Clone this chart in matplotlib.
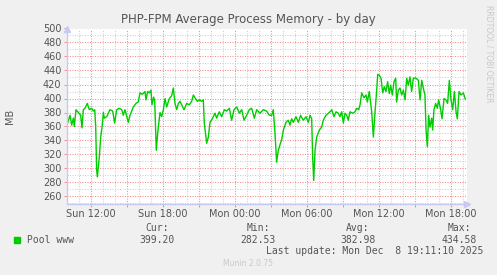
import numpy as np
import matplotlib
matplotlib.use("Agg")
import matplotlib.pyplot as plt
from matplotlib.ticker import MultipleLocator, FixedLocator, FuncFormatter

# hours since Sun 10:00
hours = [
    0.00, 0.11, 0.25, 0.39, 0.53, 0.61, 0.75, 0.94, 1.14, 1.25, 1.36, 1.50, 1.69, 1.86, 2.06, 2.19,
    2.31, 2.39, 2.47, 2.53, 2.69, 2.81, 2.94, 3.03, 3.11, 3.31, 3.58, 3.81, 3.97, 4.14, 4.36, 4.56,
    4.69, 4.83, 5.11, 5.25, 5.53, 5.75, 5.94, 6.08, 6.28, 6.50, 6.58, 6.72, 6.86, 7.00, 7.08, 7.22,
    7.31, 7.44, 7.56, 7.75, 7.89, 8.03, 8.17, 8.31, 8.53,
    8.58, 8.72, 8.86, 9.00, 9.14, 9.28, 9.42, 9.56, 9.75, 9.97, 10.19, 10.39, 10.53, 10.67, 10.86,
    11.03, 11.22, 11.36, 11.44, 11.64, 11.78, 11.92, 12.14, 12.33, 12.47, 12.69, 12.89, 13.11, 13.31,
    13.53, 13.72, 13.92, 14.14, 14.36, 14.56, 14.75, 14.97, 15.19, 15.39, 15.61, 15.81, 16.08, 16.36,
    16.64, 16.86,
    17.06, 17.19, 17.33, 17.47, 17.61, 17.75, 17.89, 18.03, 18.25, 18.44, 18.58, 18.72, 18.86, 19.08,
    19.28, 19.47, 19.69, 19.92, 20.11, 20.25, 20.39, 20.47, 20.56, 20.67, 20.81, 21.03, 21.22, 21.36,
    21.58, 21.78, 21.92, 22.06, 22.25, 22.42, 22.61, 22.75, 22.89, 23.03, 23.17, 23.31, 23.44, 23.58,
    23.81, 24.00, 24.14, 24.31, 24.42, 24.56, 24.75, 24.92, 25.03, 25.19,
    25.39, 25.53, 25.67, 25.81, 25.89, 26.03, 26.17, 26.31, 26.44, 26.58, 26.72, 26.86, 26.97, 27.11,
    27.25, 27.39, 27.47, 27.61, 27.75, 27.89, 28.03, 28.17, 28.31, 28.44, 28.58, 28.72, 28.86, 29.08,
    29.28, 29.42, 29.56, 29.69, 29.83, 29.92, 30.03, 30.14, 30.25, 30.39, 30.47, 30.58, 30.72, 30.86,
    30.97, 31.14, 31.25, 31.42, 31.58, 31.72, 31.86, 32.00, 32.14, 32.28, 32.42, 32.53, 32.67, 32.83,
    33.03, 33.19,
]

memory_mb = [
    362, 368, 376, 362, 372, 360, 384, 380, 376, 358, 384, 386, 393, 384, 386, 382,
    384, 360, 298, 288, 316, 345, 362, 380, 372, 374, 384, 382, 365, 384, 386, 384,
    376, 384, 366, 376, 388, 393, 395, 408, 406, 410, 398, 410, 408, 412, 391, 402,
    396, 326, 351, 380, 374, 384, 400, 388, 400,
    401, 404, 415, 393, 384, 393, 396, 391, 384, 393, 391, 396, 405, 401, 396,
    398, 396, 398, 365, 336, 345, 366, 372, 379, 372, 381, 374, 384, 382,
    386, 369, 384, 388, 379, 384, 369, 376, 384, 386, 372, 384, 379, 384,
    382, 376,
    376, 384, 351, 309, 326, 334, 341, 355, 366, 369, 362, 371, 366, 374,
    366, 376, 369, 374, 366, 376, 371, 317, 283, 326, 345, 355, 359, 369,
    376, 379, 381, 384, 374, 381, 379, 374, 381, 365, 379, 376, 369, 381,
    379, 381, 386, 384, 391, 408, 401, 405, 395, 410,
    381, 345, 381, 412, 434.6, 433, 429, 408, 417, 410, 424, 407, 419, 405,
    424, 429, 395, 412, 415, 405, 412, 398, 429, 419, 431, 410, 429, 429,
    426, 398, 426, 415, 405, 355, 331, 376, 359, 372, 355, 384, 393, 386,
    398, 384, 371, 400, 398, 393, 426, 398, 384, 410, 381, 371, 410, 405,
    408, 399.2,
]

tick_labels = {2: "Sun 12:00", 8: "Sun 18:00", 14: "Mon 00:00",
               20: "Mon 06:00", 26: "Mon 12:00", 32: "Mon 18:00"}

legend_name = "Pool www"
stats = {"Cur:": "399.20", "Min:": "282.53", "Avg:": "382.98", "Max:": "434.58"}
last_update = "Last update: Mon Dec  8 19:11:10 2025"

W, H = 497, 275
BG = "#f0f0f0"
TXT = "#555555"
mono = "DejaVu Sans Mono"

fig = plt.figure(figsize=(W / 100, H / 100), dpi=100, facecolor=BG)
ax = fig.add_axes([67 / W, (H - 203.5) / H, 400 / W, 175 / H])
ax.set_facecolor("white")

ax.set_xlim(0, 400 / 12)
ax.set_ylim(250, 500)

# red grid every 3 h (Sun 12:00 = hour 2), grey every hour
ax.xaxis.set_major_locator(FixedLocator(np.arange(2, 34, 3)))
ax.xaxis.set_minor_locator(MultipleLocator(1))
ax.yaxis.set_major_locator(MultipleLocator(20))
ax.yaxis.set_minor_locator(MultipleLocator(10))
ax.xaxis.set_major_formatter(FuncFormatter(lambda v, p: tick_labels.get(int(round(v)), "")))
ax.yaxis.set_major_formatter(FuncFormatter(lambda v, p: f"{v:.0f}"))

ax.grid(which="minor", color="#cfcfcf", linestyle=(0, (1, 1.4)), linewidth=0.75)
ax.grid(which="major", color="#f09090", linestyle=(0, (1, 1.4)), linewidth=0.75)
ax.set_axisbelow(True)

ax.tick_params(which="both", colors="#f09090", length=2, width=0.7, labelcolor=TXT, labelsize=7, pad=2)
ax.tick_params(which="minor", colors="#cccccc", length=0)

for s in ["top", "right"]:
    ax.spines[s].set_visible(False)
for s in ["left", "bottom"]:
    ax.spines[s].set_color("#c8c8f0")
    ax.spines[s].set_linewidth(1)

ax.plot(hours, memory_mb, color="#00cc00", linewidth=1.0)

# axis arrows
ax.plot([1.0], [0.0], marker=">", color="#c8c8f8", markersize=5, transform=ax.transAxes, clip_on=False)
ax.plot([0.0], [1.0], marker="^", color="#c8c8f8", markersize=5, transform=ax.transAxes, clip_on=False)

fig.text(248 / W, 1 - 19 / H, "PHP-FPM Average Process Memory - by day", ha="center", va="center",
         fontsize=8.5, color=TXT)
fig.text(10 / W, 1 - 116 / H, "MB", rotation=90, ha="center", va="center", fontsize=7, color=TXT)
fig.text(489 / W, 1 - 5 / H, "RRDTOOL / TOBI OETIKER", rotation=270, ha="center", va="top",
         fontsize=5.5, color="#c8c8c8")

# legend block
fig.patches.append(plt.Rectangle((14 / W, 1 - 243 / H), 6 / W, 6 / H, transform=fig.transFigure,
                                 color="#00cc00", zorder=3))
fig.text(27 / W, 1 - 240 / H, legend_name, ha="left", va="center", family=mono, fontsize=7, color=TXT)
centers = [157, 258, 358, 459]
for cx, (lab, val) in zip(centers, stats.items()):
    fig.text(cx / W, 1 - 228 / H, lab, ha="center", va="center", family=mono, fontsize=7, color=TXT)
    fig.text(cx / W, 1 - 240 / H, val, ha="center", va="center", family=mono, fontsize=7, color=TXT)
fig.text(483 / W, 1 - 251 / H, last_update, ha="right", va="center", family=mono, fontsize=7, color=TXT)
fig.text(248 / W, 1 - 264 / H, "Munin 2.0.75", ha="center", va="center", fontsize=5.5, color="#c8c8c8")

fig.savefig("out.png", dpi=100, facecolor=BG)
